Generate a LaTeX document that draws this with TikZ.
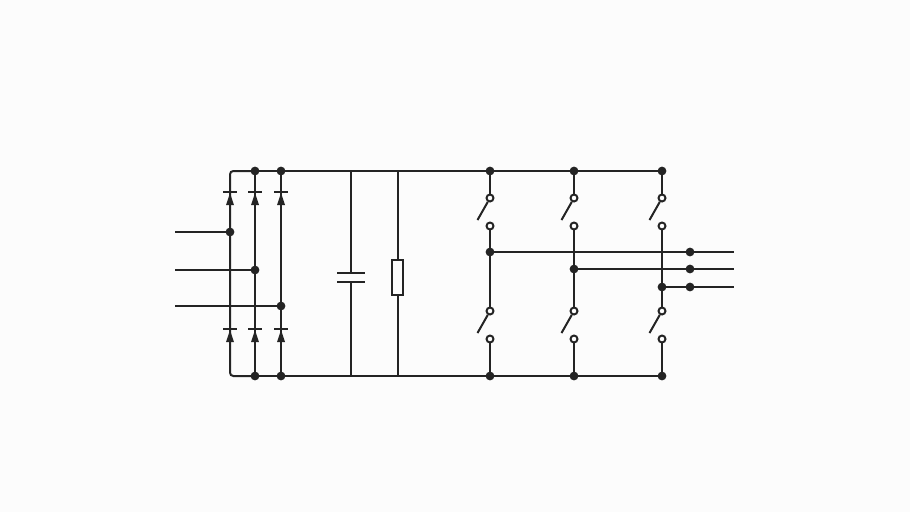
\documentclass[tikz,border=0pt]{standalone}
\definecolor{ink}{HTML}{242424}
\definecolor{paper}{HTML}{FCFCFC}
\tikzset{
  wire/.style={draw=ink,line width=1.5pt},
  dot/.style={circle,fill=ink,inner sep=0pt,outer sep=0pt,minimum size=6.6pt},
  contact/.style={circle,draw=ink,fill=white,line width=1.5pt,inner sep=0pt,minimum size=5.2pt},
  plate/.style={draw=ink,line width=1.5pt},
  resbox/.style={draw=ink,fill=paper,line width=1.5pt,inner sep=0pt,minimum width=8.25pt,minimum height=26.25pt},
}
\begin{document}
\begin{tikzpicture}[x=0.75pt,y=-0.75pt]
  \path[use as bounding box,fill=paper] (0,0) rectangle (910,512);
  % rails
  \coordinate (corner top) at (230,171);
  \coordinate (corner bot) at (230,376);
  \node[dot] (top2) at (255,171) {};
  \node[dot] (top3) at (281,171) {};
  \node[dot] (bot2) at (255,376) {};
  \node[dot] (bot3) at (281,376) {};
  \coordinate (captop) at (351,171);
  \coordinate (capbot) at (351,376);
  \coordinate (restop) at (398,171);
  \coordinate (resbot) at (398,376);
  % input bridge
  \coordinate (in1) at (175,232);
  \coordinate (in2) at (175,270);
  \coordinate (in3) at (175,306);
  \node[dot] (j1) at (230,232) {};
  \node[dot] (j2) at (255,270) {};
  \node[dot] (j3) at (281,306) {};
  \draw[wire] (in1) -- (j1.center);
  \draw[wire] (in2) -- (j2.center);
  \draw[wire] (in3) -- (j3.center);
  \draw[wire,rounded corners=2.5pt] (top2.center) -- (corner top) -- (corner bot) -- (bot2.center);
  \draw[wire] (top2.center) -- (bot2.center);
  \draw[wire] (top3.center) -- (bot3.center);
  \draw[wire] (top2.center) -- (top3.center);
  \draw[wire] (bot2.center) -- (bot3.center);
  \foreach \x in {230,255,281}
    \foreach \y in {192,329} {
      \draw[plate] (\x-7,\y) -- (\x+7,\y);
      \fill[ink] (\x,\y+1) -- (\x+4,\y+13) -- (\x-4,\y+13) -- cycle;
    }
  % capacitor and resistor
  \coordinate (platea) at (351,273);
  \coordinate (plateb) at (351,282);
  \draw[wire] (captop) -- (platea);
  \draw[wire] (plateb) -- (capbot);
  \draw[plate] (351-14,273) -- (351+14,273);
  \draw[plate] (351-14,282) -- (351+14,282);
  \node[resbox] (res) at (397.5,277.5) {};
  \draw[wire] (restop) -- (398,260);
  \draw[wire] (398,295) -- (resbot);
  % switch legs
  \foreach \x/\n/\m in {490/1/252,574/2/269,662/3/287} {
    \node[dot] (railt\n) at (\x,171) {};
    \node[dot] (railb\n) at (\x,376) {};
    \node[dot] (mid\n) at (\x,\m) {};
    \node[contact] (ua\n) at (\x,198) {};
    \node[contact] (ub\n) at (\x,226) {};
    \node[contact] (la\n) at (\x,311) {};
    \node[contact] (lb\n) at (\x,339) {};
    \coordinate (ue\n) at (\x-12.5,220);
    \coordinate (le\n) at (\x-12.5,333);
    \draw[wire] (railt\n.center) -- (ua\n);
    \draw[wire] (ua\n) -- (ue\n);
    \draw[wire] (ub\n) -- (mid\n.center);
    \draw[wire] (mid\n.center) -- (la\n);
    \draw[wire] (la\n) -- (le\n);
    \draw[wire] (lb\n) -- (railb\n.center);
    \node[dot] (outd\n) at (690,\m) {};
    \coordinate (oute\n) at (734,\m);
    \draw[wire] (mid\n.center) -- (outd\n.center);
    \draw[wire] (outd\n.center) -- (oute\n);
  }
  \draw[wire] (top3.center) -- (railt1.center);
  \draw[wire] (railt1.center) -- (railt2.center);
  \draw[wire] (railt2.center) -- (railt3.center);
  \draw[wire] (bot3.center) -- (railb1.center);
  \draw[wire] (railb1.center) -- (railb2.center);
  \draw[wire] (railb2.center) -- (railb3.center);
\end{tikzpicture}
\end{document}
